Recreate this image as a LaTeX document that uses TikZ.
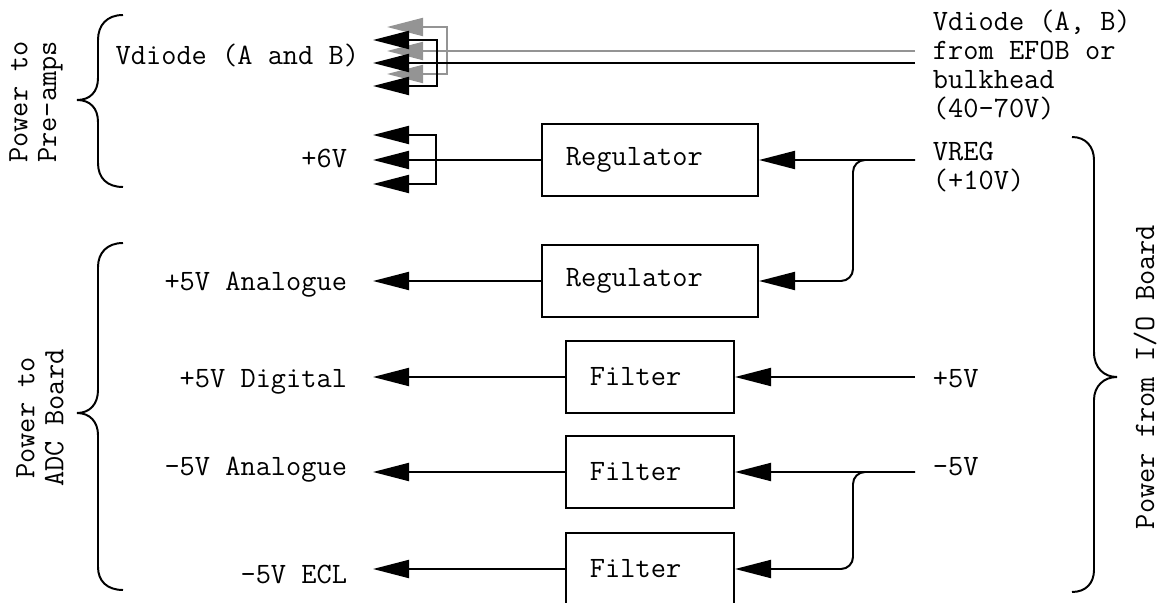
\documentclass[tikz,border=0pt]{standalone}
\usepackage{fontspec}
\usetikzlibrary{arrows.meta}
\tikzset{
  wire/.style={line width=1.4pt},
  feed/.style={wire,-{Triangle[length=0.9cm,width=0.45cm]}},
  greywire/.style={black!42},
  unitbox/.style={draw,line width=1.4pt,minimum height=1.8cm,align=left,inner xsep=0.6cm},
  brace/.style={line width=1.4pt},
}

\begin{document}
\begin{tikzpicture}[x=0.025cm,y=-0.025cm,every node/.style={font=\ttfamily\fontsize{21}{20.6}\selectfont}]
\useasboundingbox (0,0) rectangle (1160,603);
\clip (0,0) rectangle (1160,603);

% boxes
\node[unitbox,text width=4.2cm] (reg1) at (650,160) {Regulator};
\node[unitbox,text width=4.2cm] (reg2) at (650,281) {Regulator};
\node[unitbox,text width=3cm] (filt1) at (650,377) {Filter};
\node[unitbox,text width=3cm] (filt2) at (650,472) {Filter};
\node[unitbox,text width=3cm] (filt3) at (650,569) {Filter};

% outputs (left)
\node[anchor=base east] (vdout) at (364,65) {Vdiode (A and B)};
\node[anchor=base east] (sixout) at (352,168) {+6V};
\node[anchor=base east] (anaout) at (352,291) {+5V Analogue};
\node[anchor=base east] (digout) at (352,388) {+5V Digital};
\node[anchor=base east] (negout) at (352,476) {-5V Analogue};
\node[anchor=base east] (eclout) at (352,583) {-5V ECL};

% inputs (right)
\node[anchor=west,align=left] (vdin) at (928,65) {Vdiode (A, B)\\from EFOB or\\bulkhead\\(40-70V)};
\node[anchor=west,align=left] (vregin) at (928,167) {VREG\\(+10V)};
\node[anchor=base west] (posin) at (928,388) {+5V};
\node[anchor=base west] (negin) at (928,476) {-5V};

% group labels
\node[rotate=90,align=center] (preamp) at (36,102) {Power to\\Pre-amps};
\node[rotate=90,align=center] (adc) at (40,418) {Power to\\ADC Board};
\node[rotate=90,inner sep=0pt] (ioboard) at (1145,377) {Power from I/O Board};

% line ends
\coordinate (gend) at (915,51);
\coordinate (bend) at (915,63);
\coordinate (gjoin) at (447,51);
\coordinate (bjoin) at (437,63);
\coordinate (gtip1) at (387,27);
\coordinate (gtip2) at (387,51);
\coordinate (gtip3) at (387,74);
\coordinate (btip1) at (373,40);
\coordinate (btip2) at (373,63);
\coordinate (btip3) at (373,86);
\coordinate (sixjoin) at (436,160);
\coordinate (stip1) at (373,135);
\coordinate (stip2) at (373,160);
\coordinate (stip3) at (373,184);
\coordinate (vregend) at (915,160);
\coordinate (posend) at (915,377);
\coordinate (negend) at (915,472);
\coordinate (anatip) at (373,281);
\coordinate (digtip) at (373,377);
\coordinate (negtip) at (373,472);
\coordinate (ecltip) at (373,569);

% Vdiode feeds
\draw[feed,greywire] (gend) -- (gtip2);
\draw[feed,greywire] (gjoin) |- (gtip1);
\draw[feed,greywire] (gjoin) |- (gtip3);
\draw[feed] (bend) -- (btip2);
\draw[feed] (bjoin) |- (btip1);
\draw[feed] (bjoin) |- (btip3);

% +6V
\draw[feed] (reg1.west) -- (stip2);
\draw[feed] (sixjoin) |- (stip1);
\draw[feed] (sixjoin) |- (stip3);

% VREG
\draw[feed] (vregend) -- (reg1.east);
\draw[feed,rounded corners=0.3cm] (vregend) -- (853,160) -- (853,281) -- (reg2.east);
\draw[feed] (reg2.west) -- (anatip);

% +5V / -5V
\draw[feed] (posend) -- (filt1.east);
\draw[feed] (filt1.west) -- (digtip);
\draw[feed] (negend) -- (filt2.east);
\draw[feed,rounded corners=0.3cm] (negend) -- (853,472) -- (853,569) -- (filt3.east);
\draw[feed] (filt2.west) -- (negtip);
\draw[feed] (filt3.west) -- (ecltip);

% braces
\draw[brace] (123,15) .. controls (107,15) and (98,25) .. (98,40) -- (98,78)
  .. controls (98,92) and (90,100) .. (77,100) .. controls (90,100) and (98,108) .. (98,122)
  -- (98,163) .. controls (98,178) and (107,187) .. (123,187);
\draw[brace] (123,243) .. controls (107,243) and (98,253) .. (98,267) -- (98,390)
  .. controls (98,404) and (90,413) .. (77,413) .. controls (90,413) and (98,422) .. (98,435)
  -- (98,567) .. controls (98,581) and (107,590) .. (123,590);
\draw[brace] (1072,137) .. controls (1086,137) and (1094,147) .. (1094,160) -- (1094,352)
  .. controls (1094,368) and (1104,377) .. (1117,377) .. controls (1104,377) and (1094,386) .. (1094,400)
  -- (1094,570) .. controls (1094,583) and (1086,592) .. (1072,592);
\end{tikzpicture}
\end{document}
